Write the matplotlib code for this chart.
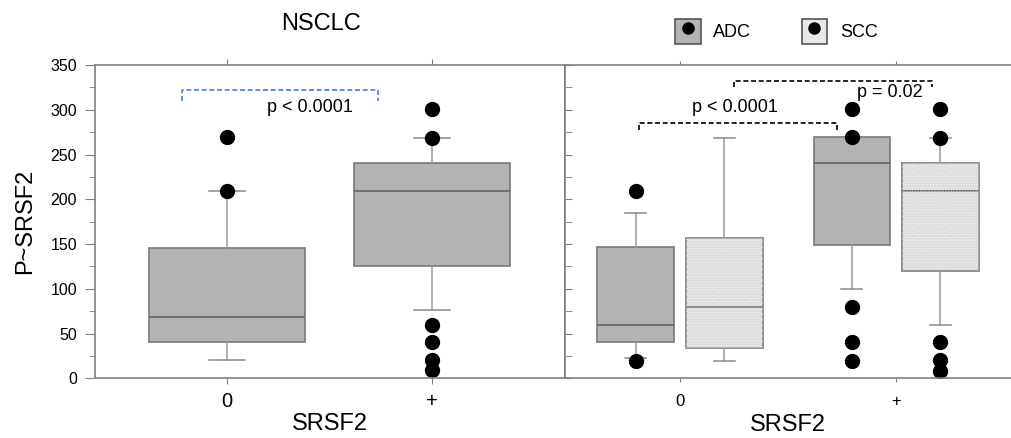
import matplotlib
matplotlib.use("Agg")
import matplotlib.pyplot as plt
from matplotlib.patches import Patch, Rectangle
from matplotlib.lines import Line2D
from matplotlib.legend_handler import HandlerTuple
from matplotlib.ticker import MultipleLocator

plt.rcParams["font.family"] = ["Liberation Sans", "DejaVu Sans"]

# --- dados ---
grupos = ["0", "+"]

# painel esquerdo: NSCLC
nsclc_q1 = [40, 125]
nsclc_med = [69, 209]
nsclc_q3 = [146, 240]
nsclc_whislo = [20, 76]
nsclc_whishi = [209, 269]
nsclc_fliers = [[209, 270], [301, 269, 60, 40, 20, 9]]

# painel direito: ADC e SCC
adc_q1 = [40, 149]
adc_med = [60, 240]
adc_q3 = [147, 270]
adc_whislo = [23, 100]
adc_whishi = [185, 270]
adc_fliers = [[209, 19], [301, 270, 80, 40, 19]]

scc_q1 = [34, 120]
scc_med = [80, 209]
scc_q3 = [157, 240]
scc_whislo = [19, 60]
scc_whishi = [269, 269]
scc_fliers = [[], [301, 269, 40, 20, 8]]

# anotações (colchetes de significância)
pval_esq = "p < 0.0001"
pval_dir = ["p < 0.0001", "p = 0.02"]


def montar_stats(q1, med, q3, lo, hi, fl):
    return [
        dict(q1=a, med=b, q3=c, whislo=d, whishi=e, fliers=f)
        for a, b, c, d, e, f in zip(q1, med, q3, lo, hi, fl)
    ]


def desenhar_caixas(ax, stats, pos, largura, cor, capw):
    ax.bxp(
        stats,
        positions=pos,
        widths=largura,
        capwidths=capw,
        patch_artist=True,
        boxprops=dict(facecolor=cor, edgecolor="#7a7a7a", linewidth=1.2),
        whiskerprops=dict(color="#9a9a9a", linewidth=1.1),
        capprops=dict(color="#8a8a8a", linewidth=1.1),
        medianprops=dict(color="#6a6a6a", linewidth=1.3),
        flierprops=dict(
            marker="o",
            markerfacecolor="black",
            markeredgecolor="black",
            markersize=10,
            linestyle="none",
        ),
        manage_ticks=False,
        zorder=2,
    )


def colchete(ax, x0, x1, y, queda, cor):
    ax.plot(
        [x0, x0, x1, x1],
        [y - queda, y, y, y - queda],
        color=cor,
        linestyle=(0, (3, 1.6)),
        linewidth=1.2,
        zorder=3,
    )


fig = plt.figure(figsize=(10.11, 4.38), dpi=100)
ax1 = fig.add_axes([0.094, 0.1363, 0.4649, 0.7153])
ax2 = fig.add_axes([0.5589, 0.1363, 0.4411, 0.7153])

cinza = "#b3b3b3"
cinza_claro = "#e9e9e9"

# --- painel esquerdo ---
pos1 = [1, 2]
desenhar_caixas(
    ax1,
    montar_stats(nsclc_q1, nsclc_med, nsclc_q3, nsclc_whislo, nsclc_whishi, nsclc_fliers),
    pos1,
    0.76,
    cinza,
    0.176,
)
ax1.set_xlim(0.356, 2.649)
ax1.set_ylim(0, 350)
ax1.yaxis.set_major_locator(MultipleLocator(50))
ax1.yaxis.set_minor_locator(MultipleLocator(25))
ax1.set_xticks(pos1)
ax1.set_xticklabels(grupos, fontsize=14.5)
ax1.tick_params(axis="y", which="major", direction="out", length=7, labelsize=11.5,
                color="#808080", pad=6)
ax1.tick_params(axis="y", which="minor", direction="out", length=4, color="#808080")
ax1.tick_params(axis="x", direction="out", length=4, top=True, color="#808080", pad=6)
ax1.set_ylabel("P~SRSF2", fontsize=17, labelpad=10)
ax1.set_xlabel("SRSF2", fontsize=17, labelpad=1)
colchete(ax1, 0.78, 1.737, 322, 12, "#4a7fd0")
ax1.text(1.405, 302, pval_esq, fontsize=13, ha="center", va="center")
fig.text(0.318, 0.945, "NSCLC", fontsize=17, ha="center", va="center")

# --- painel direito ---
desloc = 0.204
pos_adc = [p - desloc for p in pos1]
pos_scc = [p + desloc for p in pos1]
desenhar_caixas(
    ax2,
    montar_stats(adc_q1, adc_med, adc_q3, adc_whislo, adc_whishi, adc_fliers),
    pos_adc,
    0.356,
    cinza,
    0.097,
)
desenhar_caixas(
    ax2,
    montar_stats(scc_q1, scc_med, scc_q3, scc_whislo, scc_whishi, scc_fliers),
    pos_scc,
    0.356,
    cinza_claro,
    0.097,
)
# pontilhado leve nas caixas SCC
for p, a, b in zip(pos_scc, scc_q1, scc_q3):
    ax2.add_patch(Rectangle((p - 0.178, a), 0.356, b - a, facecolor="none",
                            edgecolor="#d2d2d2", hatch="......", linewidth=0, zorder=2.1))

ax2.set_xlim(0.468, 2.532)
ax2.set_ylim(0, 350)
ax2.yaxis.set_major_locator(MultipleLocator(50))
ax2.yaxis.set_minor_locator(MultipleLocator(25))
ax2.set_yticklabels([])
ax2.tick_params(axis="y", which="both", direction="in", length=5, color="#808080")
ax2.set_xticks(pos1)
ax2.set_xticklabels(grupos, fontsize=12)
ax2.tick_params(axis="x", direction="out", length=3, top=True, color="#808080", pad=8)
ax2.set_xlabel("SRSF2", fontsize=17, labelpad=4)
colchete(ax2, 0.81, 1.725, 285, 8, "black")
colchete(ax2, 1.25, 2.167, 332, 7, "black")
ax2.text(1.255, 302, pval_dir[0], fontsize=13, ha="center", va="center")
ax2.text(1.972, 319, pval_dir[1], fontsize=13, ha="center", va="center")

for ax in (ax1, ax2):
    for lado in ax.spines.values():
        lado.set_color("#808080")
        lado.set_linewidth(1.2)
ax2.spines["right"].set_visible(False)

# legenda
ponto = Line2D([], [], marker="o", color="black", markersize=8, linestyle="none")
h_adc = (Patch(facecolor=cinza, edgecolor="#555555", linewidth=1.2), ponto)
h_scc = (Patch(facecolor=cinza_claro, edgecolor="#555555", linewidth=1.2), ponto)
fig.legend(
    [h_adc, h_scc],
    ["ADC", "SCC"],
    handler_map={tuple: HandlerTuple(ndivide=1, pad=0)},
    loc="center",
    bbox_to_anchor=(0.768, 0.929),
    ncol=2,
    frameon=False,
    fontsize=13,
    handlelength=1.4,
    handleheight=1.75,
    handletextpad=0.7,
    columnspacing=2.8,
)

fig.savefig("out.png", dpi=100)
